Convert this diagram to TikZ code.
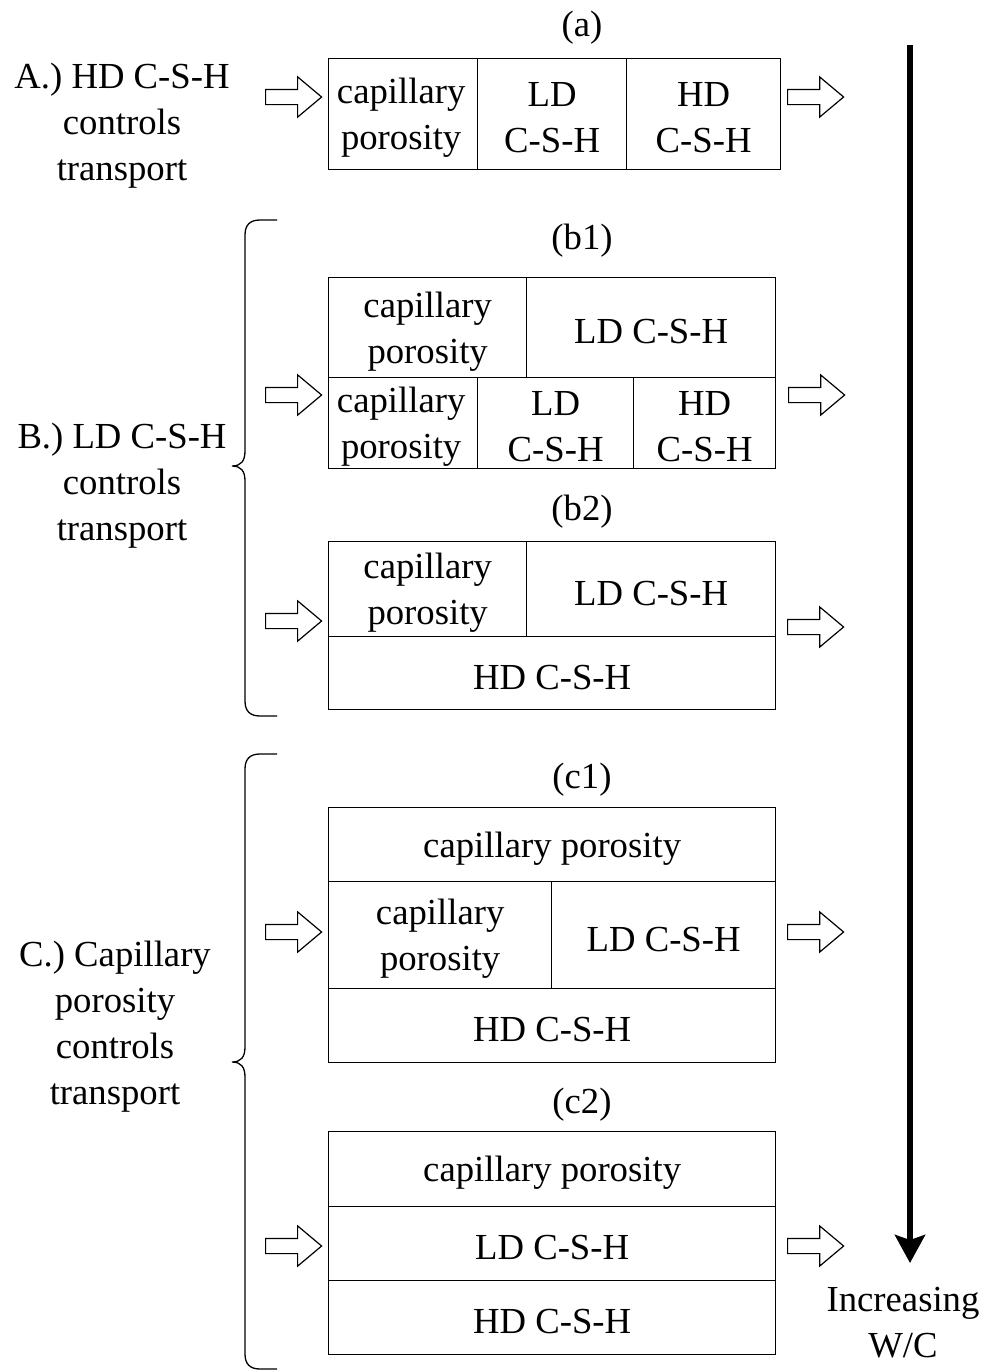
\documentclass[tikz,border=0pt]{standalone}
\usepackage{fontspec}
\setmainfont{Liberation Serif}
\usetikzlibrary{shapes.arrows,arrows.meta}
\begin{document}
\begin{tikzpicture}[x=1pt,y=-1pt,
  txt/.style={font=\fontsize{36.7}{46}\selectfont, align=center, inner sep=0pt, yshift=-3pt},
  ctxt/.style={font=\fontsize{36.7}{46}\selectfont, align=center, inner sep=0pt, yshift=-4pt},
  cell/.style={draw, inner sep=0pt, line width=1.3pt, anchor=north west},
  harr/.style={single arrow, draw, line width=1.2pt, minimum height=56pt, inner sep=7pt,
    single arrow head extend=12.5pt, single arrow tip angle=80, anchor=tail},
  bracel/.style={line width=1.3pt}]
\useasboundingbox (0,0) rectangle (985,1371);

% ---- labels
\node[txt] (la) at (582,25) {(a)};
\node[txt] (lb1) at (582,238) {(b1)};
\node[txt] (lb2) at (582,509) {(b2)};
\node[txt] (lc1) at (582,777) {(c1)};
\node[txt] (lc2) at (582,1102) {(c2)};

\node[txt] (tA) at (122,123) {A.) HD C-S-H\\controls\\transport};
\node[txt] (tB) at (122,483) {B.) LD C-S-H\\controls\\transport};
\node[txt] (tC) at (115,1024) {C.) Capillary\\porosity\\controls\\transport};
\node[txt] (tW) at (903,1320) {Increasing\\W/C};

% ---- (a)
\node[cell, minimum width=149pt, minimum height=111pt] (a1) at (328,58) {};
\node[cell, minimum width=149pt, minimum height=111pt] (a2) at (477,58) {};
\node[cell, minimum width=154pt, minimum height=111pt] (a3) at (626,58) {};
\node[ctxt] (a1t) at ([xshift=-2pt]a1.center) {capillary\\porosity};
\node[ctxt] (a2t) at (a2.center) {LD\\C-S-H};
\node[ctxt] (a3t) at (a3.center) {HD\\C-S-H};

% ---- (b1)
\node[cell, minimum width=198pt, minimum height=100pt] (b11) at (328,277) {};
\node[cell, minimum width=249pt, minimum height=100pt] (b12) at (526,277) {};
\node[cell, minimum width=149pt, minimum height=91pt] (b13) at (328,377) {};
\node[cell, minimum width=156pt, minimum height=91pt] (b14) at (477,377) {};
\node[cell, minimum width=142pt, minimum height=91pt] (b15) at (633,377) {};
\node[ctxt] (b11t) at (b11.center) {capillary\\porosity};
\node[ctxt] (b12t) at (b12.center) {LD C-S-H};
\node[ctxt] (b13t) at ([xshift=-2pt]b13.center) {capillary\\porosity};
\node[ctxt] (b14t) at (b14.center) {LD\\C-S-H};
\node[ctxt] (b15t) at (b15.center) {HD\\C-S-H};

% ---- (b2)
\node[cell, minimum width=198pt, minimum height=95pt] (b21) at (328,541) {};
\node[cell, minimum width=249pt, minimum height=95pt] (b22) at (526,541) {};
\node[cell, minimum width=447pt, minimum height=73pt] (b23) at (328,636) {};
\node[ctxt] (b21t) at (b21.center) {capillary\\porosity};
\node[ctxt] (b22t) at (b22.center) {LD C-S-H};
\node[ctxt] (b23t) at (b23.center) {HD C-S-H};

% ---- (c1)
\node[cell, minimum width=447pt, minimum height=74pt] (c11) at (328,807) {};
\node[cell, minimum width=223pt, minimum height=107pt] (c12) at (328,881) {};
\node[cell, minimum width=224pt, minimum height=107pt] (c13) at (551,881) {};
\node[cell, minimum width=447pt, minimum height=74pt] (c14) at (328,988) {};
\node[ctxt] (c11t) at (c11.center) {capillary porosity};
\node[ctxt] (c12t) at (c12.center) {capillary\\porosity};
\node[ctxt] (c13t) at (c13.center) {LD C-S-H};
\node[ctxt] (c14t) at (c14.center) {HD C-S-H};

% ---- (c2)
\node[cell, minimum width=447pt, minimum height=75pt] (c21) at (328,1131) {};
\node[cell, minimum width=447pt, minimum height=74pt] (c22) at (328,1206) {};
\node[cell, minimum width=447pt, minimum height=74pt] (c23) at (328,1280) {};
\node[ctxt] (c21t) at (c21.center) {capillary porosity};
\node[ctxt] (c22t) at (c22.center) {LD C-S-H};
\node[ctxt] (c23t) at (c23.center) {HD C-S-H};

% ---- hollow arrows
\node[harr] (ia) at (265,97) {};
\node[harr] (oa) at (787,97) {};
\node[harr] (ib1) at (265,395) {};
\node[harr] (ob1) at (788,395) {};
\node[harr] (ib2) at (265,621) {};
\node[harr] (ob2) at (787,627) {};
\node[harr] (ic1) at (265,932) {};
\node[harr] (oc1) at (787,932) {};
\node[harr] (ic2) at (265,1246) {};
\node[harr] (oc2) at (787,1246) {};

% ---- big arrow
\coordinate (wtop) at (910,45);
\coordinate (wbot) at (910,1263);
\draw[line width=6pt, -{Stealth[length=28pt,width=30pt,inset=5pt]}] (wtop) -- (wbot);

% ---- braces
\draw[bracel] (277,220) -- (260,220) .. controls (250,220) and (245,225) .. (245,235)
  -- (245,451) .. controls (245,461) and (241,466) .. (232,466)
  .. controls (241,466) and (245,471) .. (245,481)
  -- (245,701) .. controls (245,711) and (250,716) .. (260,716) -- (277,716);
\draw[bracel] (277,754) -- (260,754) .. controls (250,754) and (245,759) .. (245,769)
  -- (245,1047) .. controls (245,1057) and (241,1062) .. (232,1062)
  .. controls (241,1062) and (245,1067) .. (245,1077)
  -- (245,1354) .. controls (245,1364) and (250,1369) .. (260,1369) -- (277,1369);
\end{tikzpicture}
\end{document}
